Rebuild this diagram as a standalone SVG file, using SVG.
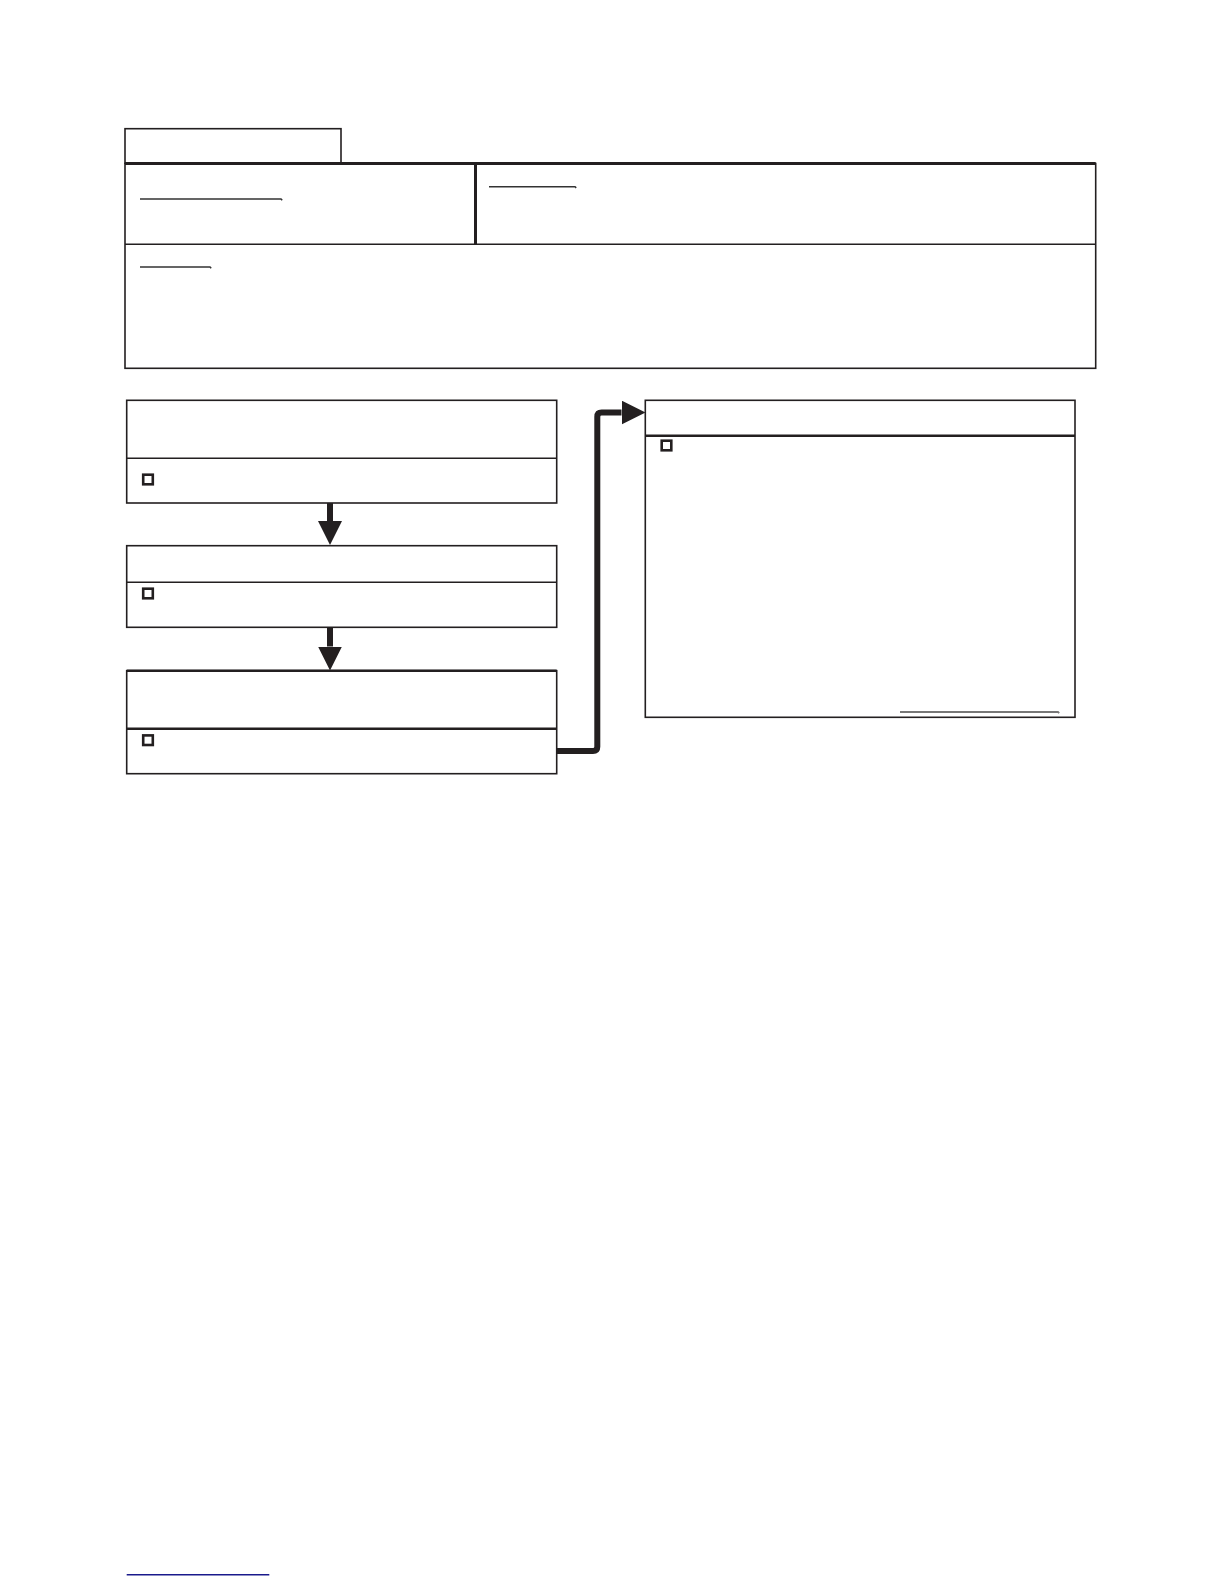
<svg xmlns="http://www.w3.org/2000/svg" width="1224" height="1584" viewBox="0 0 1224 1584">
<style>
.box{fill:#fff;stroke:#231f20;stroke-width:1.6}
.thin{fill:none;stroke:#231f20;stroke-width:1.6}
.thick{fill:none;stroke:#231f20;stroke-width:3}
.ul{fill:none;stroke:#333;stroke-width:1.6}
.chk{fill:#fff;stroke:#231f20;stroke-width:2.6}
.conn{fill:none;stroke:#231f20;stroke-width:6;stroke-linecap:butt;stroke-linejoin:round}
</style>
<defs>
<marker id="ah" markerUnits="userSpaceOnUse" markerWidth="25" markerHeight="25" refX="0" refY="12" orient="auto">
<path d="M0,0 L24,12 L0,24 z" fill="#231f20"/>
</marker>
</defs>
<rect width="1224" height="1584" fill="#fff"/>
<g id="header">
<rect x="125" y="128.7" width="216" height="34.5" class="box" stroke-width="1.3"/>
<rect x="125" y="163.5" width="970.7" height="204.8" class="box"/>
<line x1="125" y1="163.5" x2="1095.7" y2="163.5" class="thick"/>
<line x1="475.5" y1="163.5" x2="475.5" y2="244.3" class="thick"/>
<line x1="125" y1="244.3" x2="1095.7" y2="244.3" class="thin"/>
<path d="M140,199 H281 l1.2,1.2" class="ul"/>
<path d="M489,186.7 H575 l1.2,1.2" class="ul"/>
<path d="M140,267 H210 l1.2,1.2" class="ul"/>
</g>
<g id="step1">
<rect x="126.7" y="400.3" width="430" height="102.7" class="box"/>
<line x1="126.7" y1="458.3" x2="556.7" y2="458.3" class="thin"/>
<rect x="143.2" y="474.7" width="9.6" height="9.6" class="chk"/>
</g>
<g id="step2">
<rect x="126.7" y="545.7" width="430" height="81.6" class="box"/>
<line x1="126.7" y1="582.3" x2="556.7" y2="582.3" class="thin"/>
<rect x="143.2" y="588.7" width="9.6" height="9.6" class="chk"/>
</g>
<g id="step3">
<rect x="126.7" y="670.7" width="430" height="103" class="box" stroke-width="2"/>
<line x1="126.7" y1="670.7" x2="556.7" y2="670.7" stroke="#231f20" stroke-width="2.6"/>
<line x1="126.7" y1="728.7" x2="556.7" y2="728.7" stroke="#231f20" stroke-width="2.6"/>
<rect x="143.2" y="735.4" width="9.6" height="9.6" class="chk"/>
</g>
<g id="result">
<rect x="645.3" y="400.3" width="429.7" height="317" class="box"/>
<line x1="645.3" y1="435.7" x2="1075" y2="435.7" stroke="#231f20" stroke-width="2.6"/>
<rect x="661.7" y="440.7" width="9.6" height="9.6" class="chk"/>
<path d="M900,712 H1058 l1.2,1.2" fill="none" stroke="#777" stroke-width="1.8"/>
</g>
<g id="connectors">
<line x1="330" y1="503" x2="330" y2="521" class="conn" marker-end="url(#ah)"/>
<line x1="330" y1="627.3" x2="330" y2="646.5" class="conn" marker-end="url(#ah)"/>
<path d="M556.7,751 H593 Q597.3,751 597.3,746.7 V416.8 Q597.3,412.5 601.6,412.5 H621.5" class="conn" marker-end="url(#ah)"/>
</g>
<line x1="126.7" y1="1574.7" x2="269.3" y2="1574.7" stroke="#1a1a8c" stroke-width="1.6"/>
</svg>
